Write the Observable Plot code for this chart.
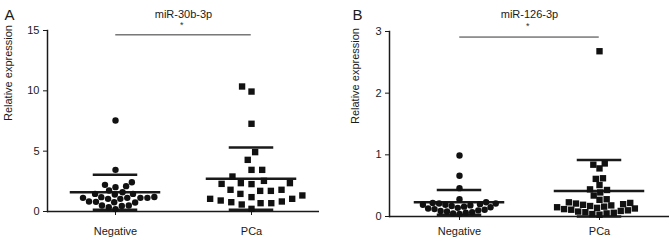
<!DOCTYPE html>
<html><head><meta charset="utf-8">
<script src="https://cdn.jsdelivr.net/npm/d3@7"></script>
<script src="https://cdn.jsdelivr.net/npm/@observablehq/plot@0.6"></script>
<style>
html,body{margin:0;padding:0;background:#fff;}
#wrap{display:flex;width:672px;height:240px;overflow:hidden;}
#wrap svg{display:block;}
</style></head><body><div id="wrap"></div>
<script>
const groups = ["Negative", "PCa"];

// Panel A: miR-30b-3p
const aNegative = [0.20, 0.36, 0.45, 0.50, 0.50, 0.75, 0.77, 0.80, 0.83, 1.05, 1.05, 1.13, 1.13, 1.13, 1.13, 1.19, 1.20, 1.41, 1.46, 1.46, 1.60, 1.74, 2.02, 2.10, 2.21, 2.43, 3.45, 7.54];
const aPCa = [0.22, 0.58, 0.69, 0.69, 0.77, 0.83, 0.91, 1.05, 1.05, 1.19, 1.33, 1.46, 1.71, 1.71, 1.80, 1.80, 2.27, 2.29, 2.35, 2.35, 2.54, 2.90, 3.45, 3.45, 4.28, 4.92, 7.27, 9.94, 10.36];
const aMean = [1.59, 2.72];
const aSD = [1.45, 2.58];
const aTicks = [0, 5, 10, 15];

// Panel B: miR-126-3p
const bNegative = [0.04, 0.05, 0.06, 0.07, 0.08, 0.09, 0.10, 0.11, 0.12, 0.13, 0.14, 0.15, 0.16, 0.17, 0.18, 0.19, 0.19, 0.20, 0.21, 0.21, 0.22, 0.23, 0.28, 0.46, 0.66, 0.99];
const bPCa = [0.03, 0.04, 0.05, 0.06, 0.07, 0.08, 0.09, 0.10, 0.11, 0.12, 0.13, 0.14, 0.15, 0.16, 0.17, 0.18, 0.19, 0.20, 0.21, 0.22, 0.23, 0.27, 0.28, 0.34, 0.39, 0.43, 0.44, 0.51, 0.61, 0.62, 0.78, 0.84, 0.86, 2.68];
const bMean = [0.23, 0.415];
const bSD = [0.20, 0.50];
const bTicks = [0, 1, 2, 3];

function panel(o) {
  const neg = o.neg.map(v => ({group: groups[0], value: v}));
  const pca = o.pca.map(v => ({group: groups[1], value: v}));
  const stats = groups.map((g, i) => ({
    group: g, mean: o.mean[i],
    lo: Math.max(0, o.mean[i] - o.sd[i]), hi: o.mean[i] + o.sd[i]
  }));
  const fw = (336 - o.ml - o.mr) / 2;
  const first = [stats[0]], second = [stats[1]];
  return Plot.plot({
    width: 336, height: 240,
    marginLeft: o.ml, marginRight: o.mr, marginTop: o.mt, marginBottom: o.mb,
    style: {fontFamily: "'Liberation Sans', Arial, Helvetica, sans-serif", fontSize: "11px", color: "#1a1a1a", background: "white", overflow: "visible"},
    fx: {domain: groups, padding: 0, axis: "bottom", label: null, tickSize: 4, tickPadding: o.fxPad},
    y: {domain: [0, o.yMax], ticks: o.ticks, tickFormat: d3.format("d"), tickSize: 4, tickPadding: 4, label: null},
    marks: [
      Plot.frame({anchor: "left", facet: "super", strokeWidth: 1.5}),
      Plot.ruleY([0], {strokeWidth: 1.5}),
      Plot.ruleX(stats, {fx: "group", y1: "lo", y2: "hi", strokeWidth: 2}),
      Plot.tickY(stats, {fx: "group", y: "mean", insetLeft: (fw - 91) / 2, insetRight: (fw - 91) / 2, strokeWidth: 2.5}),
      Plot.tickY(stats, {fx: "group", y: "hi", insetLeft: (fw - 45) / 2, insetRight: (fw - 45) / 2, strokeWidth: 2.5}),
      Plot.tickY(stats, {fx: "group", y: "lo", insetLeft: (fw - 45) / 2, insetRight: (fw - 45) / 2, strokeWidth: 2.5}),
      Plot.dot(neg, Plot.dodgeX({anchor: "middle", padding: o.padC}, {fx: "group", y: "value", r: 3.2, fill: "#111", stroke: "none"})),
      Plot.dot(pca, Plot.dodgeX({anchor: "middle", padding: o.padS}, {fx: "group", y: "value", r: 3.6, symbol: "square", fill: "#111", stroke: "none"})),
      // significance bracket
      Plot.tickY(first, {fx: "group", y: () => o.bracket, insetLeft: fw / 2, stroke: "#333", strokeWidth: 1}),
      Plot.tickY(second, {fx: "group", y: () => o.bracket, insetRight: fw / 2, stroke: "#333", strokeWidth: 1}),
      Plot.ruleX(stats, {fx: "group", y1: () => o.bracket, y2: () => o.bracketTick, stroke: "#333", strokeWidth: 1}),
      Plot.text(first, {fx: "group", y: () => o.star, frameAnchor: "right", text: () => "*", fontSize: 9, fill: "#333"}),
      // title, panel letter, y label
      Plot.text([o.title], {facet: "super", frameAnchor: "top", dy: 10 - o.mt, text: d => d, fontSize: 11}),
      Plot.text([o.letter], {facet: "super", frameAnchor: "top-left", dx: o.letterX - o.ml, dy: 9 - o.mt, text: d => d, textAnchor: "start", fontSize: 15}),
      Plot.text(["Relative expression"], {facet: "super", frameAnchor: "left", rotate: -90, dx: o.labelX - o.ml, text: d => d, fontSize: 11})
    ]
  });
}

const wrap = document.getElementById("wrap");
wrap.append(panel({
  title: "miR-30b-3p", letter: "A", neg: aNegative, pca: aPCa, mean: aMean, sd: aSD,
  ticks: aTicks, yMax: 15, ml: 46, mr: 17, mt: 30, mb: 29, fxPad: 12,
  padC: 0.6, padS: 3.5, bracket: 14.64, bracketTick: 14.2, star: 15.45,
  letterX: 3, labelX: 7
}));
wrap.append(panel({
  title: "miR-126-3p", letter: "B", neg: bNegative, pca: bPCa, mean: bMean, sd: bSD,
  ticks: bTicks, yMax: 3, ml: 52, mr: 3, mt: 31, mb: 24, fxPad: 7,
  padC: 0, padS: 0, bracket: 2.91, bracketTick: 2.83, star: 3.09,
  letterX: 15, labelX: 18
}));
</script>
</body></html>
